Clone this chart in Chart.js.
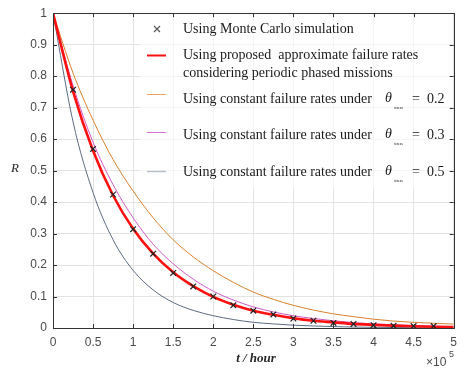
<!DOCTYPE html>
<html>
<head>
<meta charset="utf-8">
<script src="https://cdn.jsdelivr.net/npm/chart.js@4.4.1/dist/chart.umd.min.js"></script>
<style>
  html, body { margin: 0; padding: 0; background: #fff; }
  #chart { display: block; }
</style>
</head>
<body>
<canvas id="chart" width="464" height="370"></canvas>
<script>
// time in units of 1e5 hours
const tLine = [0, 0.25, 0.5, 0.75, 1, 1.25, 1.5, 1.75, 2, 2.25, 2.5, 2.75, 3, 3.25, 3.5, 3.75, 4, 4.25, 4.5, 4.75, 5];
const tMC = [0.25, 0.5, 0.75, 1, 1.25, 1.5, 1.75, 2, 2.25, 2.5, 2.75, 3, 3.25, 3.5, 3.75, 4, 4.25, 4.5, 4.75];

const rMonteCarlo = [0.757, 0.569, 0.424, 0.314, 0.236, 0.175, 0.132, 0.100, 0.072, 0.055, 0.043, 0.030, 0.023, 0.016, 0.013, 0.009, 0.007, 0.006, 0.006];
const rProposed = [1, 0.752, 0.563, 0.421, 0.315, 0.236, 0.177, 0.133, 0.099, 0.074, 0.055, 0.042, 0.031, 0.023, 0.018, 0.013, 0.010, 0.0074, 0.0055, 0.0041, 0.0031];
const rStress02 = [1, 0.81, 0.66, 0.535, 0.435, 0.35, 0.28, 0.226, 0.182, 0.145, 0.114, 0.091, 0.072, 0.057, 0.045, 0.036, 0.028, 0.022, 0.018, 0.015, 0.0125];
const rStress03 = [1, 0.77, 0.59, 0.455, 0.35, 0.266, 0.204, 0.155, 0.117, 0.089, 0.067, 0.051, 0.039, 0.030, 0.023, 0.017, 0.013, 0.010, 0.0078, 0.006, 0.0046];
const rStress05 = [1, 0.655, 0.43, 0.28, 0.183, 0.121, 0.081, 0.056, 0.039, 0.027, 0.018, 0.013, 0.009, 0.0065, 0.0045, 0.003, 0.0022, 0.0015, 0.001, 0.0007, 0.0005];

const xTicks = [0, 0.5, 1, 1.5, 2, 2.5, 3, 3.5, 4, 4.5, 5];
const yTicks = [0, 0.1, 0.2, 0.3, 0.4, 0.5, 0.6, 0.7, 0.8, 0.9, 1];

const stressLabels = ["0.2", "0.3", "0.5"];

function pts(xs, ys) {
  return xs.map((x, i) => ({ x: x, y: ys[i] }));
}

const colRed = "#ff1010";
const colOrange = "#d9812e";
const colMagenta = "#cf5ac6";
const colGray = "#5d6c82";

// box, inward ticks, axis titles and legend
const decor = {
  id: "decor",
  beforeDatasetsDraw: (chart) => {
    const { ctx } = chart;
    ctx.save();
    ctx.fillStyle = "rgba(255,255,255,0.6)";
    ctx.fillRect(140, 13, 310, 176);
    ctx.restore();
  },
  afterDraw: (chart) => {
    const { ctx, chartArea: a, scales } = chart;
    const xs = scales.x, ys = scales.y;
    ctx.save();
    ctx.strokeStyle = "#333";
    ctx.lineWidth = 1;
    ctx.strokeRect(Math.round(a.left) + 0.5, Math.round(a.top) + 0.5, Math.round(a.right - a.left), Math.round(a.bottom - a.top));
    ctx.beginPath();
    xTicks.forEach((v) => {
      const px = Math.round(xs.getPixelForValue(v)) + 0.5;
      ctx.moveTo(px, a.bottom); ctx.lineTo(px, a.bottom - 4);
      ctx.moveTo(px, a.top); ctx.lineTo(px, a.top + 4);
    });
    yTicks.forEach((v) => {
      const py = Math.round(ys.getPixelForValue(v)) + 0.5;
      ctx.moveTo(a.left, py); ctx.lineTo(a.left + 4, py);
      ctx.moveTo(a.right, py); ctx.lineTo(a.right - 4, py);
    });
    ctx.stroke();

    // axis titles
    ctx.fillStyle = "#262626";
    ctx.textBaseline = "middle";
    ctx.textAlign = "center";
    ctx.font = "italic 13px 'Liberation Serif'";
    ctx.fillText("R", 15, 169);
    ctx.font = "bold italic 13px 'Liberation Serif'";
    ctx.fillText("t / hour", 256, 359);

    ctx.fillStyle = "#4a4a4a";
    ctx.textAlign = "left";
    ctx.font = "12px 'Liberation Sans'";
    ctx.fillText("\u00d710", 426, 363);
    ctx.font = "9px 'Liberation Sans'";
    ctx.fillText("5", 449, 355);

    // legend
    const tx = 183;
    ctx.fillStyle = "#1a1a1a";
    ctx.font = "14px 'Liberation Serif'";
    ctx.textAlign = "left";
    ctx.fillText("Using Monte Carlo simulation", tx, 29);
    ctx.fillText("Using proposed  approximate failure rates", tx, 55);
    ctx.fillText("considering periodic phased missions", tx, 73);
    const rows = [99, 135, 172];
    rows.forEach((y, i) => {
      ctx.font = "14px 'Liberation Serif'";
      ctx.fillText("Using constant failure rates under", tx, y);
      ctx.font = "italic 14px 'Liberation Serif'";
      ctx.fillText("\u03b8", 385, y - 1);
      ctx.font = "4px 'Liberation Serif'";
      ctx.fillText("stress", 394, y + 9);
      ctx.font = "14px 'Liberation Serif'";
      ctx.fillText("=  " + stressLabels[i], 412, y);
    });

    // legend samples
    ctx.strokeStyle = "#555";
    ctx.lineWidth = 1.1;
    ctx.beginPath();
    ctx.moveTo(154, 26); ctx.lineTo(160, 32);
    ctx.moveTo(160, 26); ctx.lineTo(154, 32);
    ctx.stroke();
    const samples = [[55, colRed, 2], [94, "#eba365", 1], [132, "#d86fd0", 1], [171, "#b8c0cc", 1.5]];
    samples.forEach((s) => {
      ctx.strokeStyle = s[1];
      ctx.lineWidth = s[2];
      ctx.beginPath();
      ctx.moveTo(147, s[0] + 0.5);
      ctx.lineTo(166, s[0] + 0.5);
      ctx.stroke();
    });
    ctx.restore();
  },
};

const lineOpts = {
  showLine: true,
  pointRadius: 0,
  cubicInterpolationMode: "monotone",
  fill: false,
};

const tickFmt = (v) => String(Math.round(v * 10) / 10);

new Chart(document.getElementById("chart"), {
  type: "scatter",
  data: {
    datasets: [
      {
        label: "Using Monte Carlo simulation",
        data: pts(tMC, rMonteCarlo),
        showLine: false,
        pointStyle: "crossRot",
        pointRadius: 4,
        borderColor: "#222",
        borderWidth: 1.2,
      },
      Object.assign({ label: "proposed", data: pts(tLine, rProposed), borderColor: colRed, borderWidth: 2.6 }, lineOpts),
      Object.assign({ label: "0.3", data: pts(tLine, rStress03), borderColor: colMagenta, borderWidth: 1 }, lineOpts),
      Object.assign({ label: "0.2", data: pts(tLine, rStress02), borderColor: colOrange, borderWidth: 1 }, lineOpts),
      Object.assign({ label: "0.5", data: pts(tLine, rStress05), borderColor: colGray, borderWidth: 1 }, lineOpts),
    ],
  },
  options: {
    responsive: false,
    animation: false,
    devicePixelRatio: 1,
    layout: { padding: { left: 0, right: 9, top: 10, bottom: 0 } },
    plugins: { legend: { display: false }, tooltip: { enabled: false } },
    scales: {
      x: {
        type: "linear",
        min: 0,
        max: 5,
        afterFit: (s) => { s.height = 42; },
        afterBuildTicks: (s) => { s.ticks = xTicks.map((v) => ({ value: v })); },
        grid: { color: "#e3e3e3", drawTicks: false },
        border: { display: false },
        ticks: { color: "#4a4a4a", font: { family: "'Liberation Sans'", size: 12 }, padding: 7, maxRotation: 0, callback: tickFmt },
      },
      y: {
        type: "linear",
        min: 0,
        max: 1,
        afterFit: (s) => { s.width = 53; },
        afterBuildTicks: (s) => { s.ticks = yTicks.map((v) => ({ value: v })); },
        grid: { color: "#e3e3e3", drawTicks: false },
        border: { display: false },
        ticks: { color: "#4a4a4a", font: { family: "'Liberation Sans'", size: 12 }, padding: 6, callback: tickFmt },
      },
    },
  },
  plugins: [decor],
});
</script>
</body>
</html>
